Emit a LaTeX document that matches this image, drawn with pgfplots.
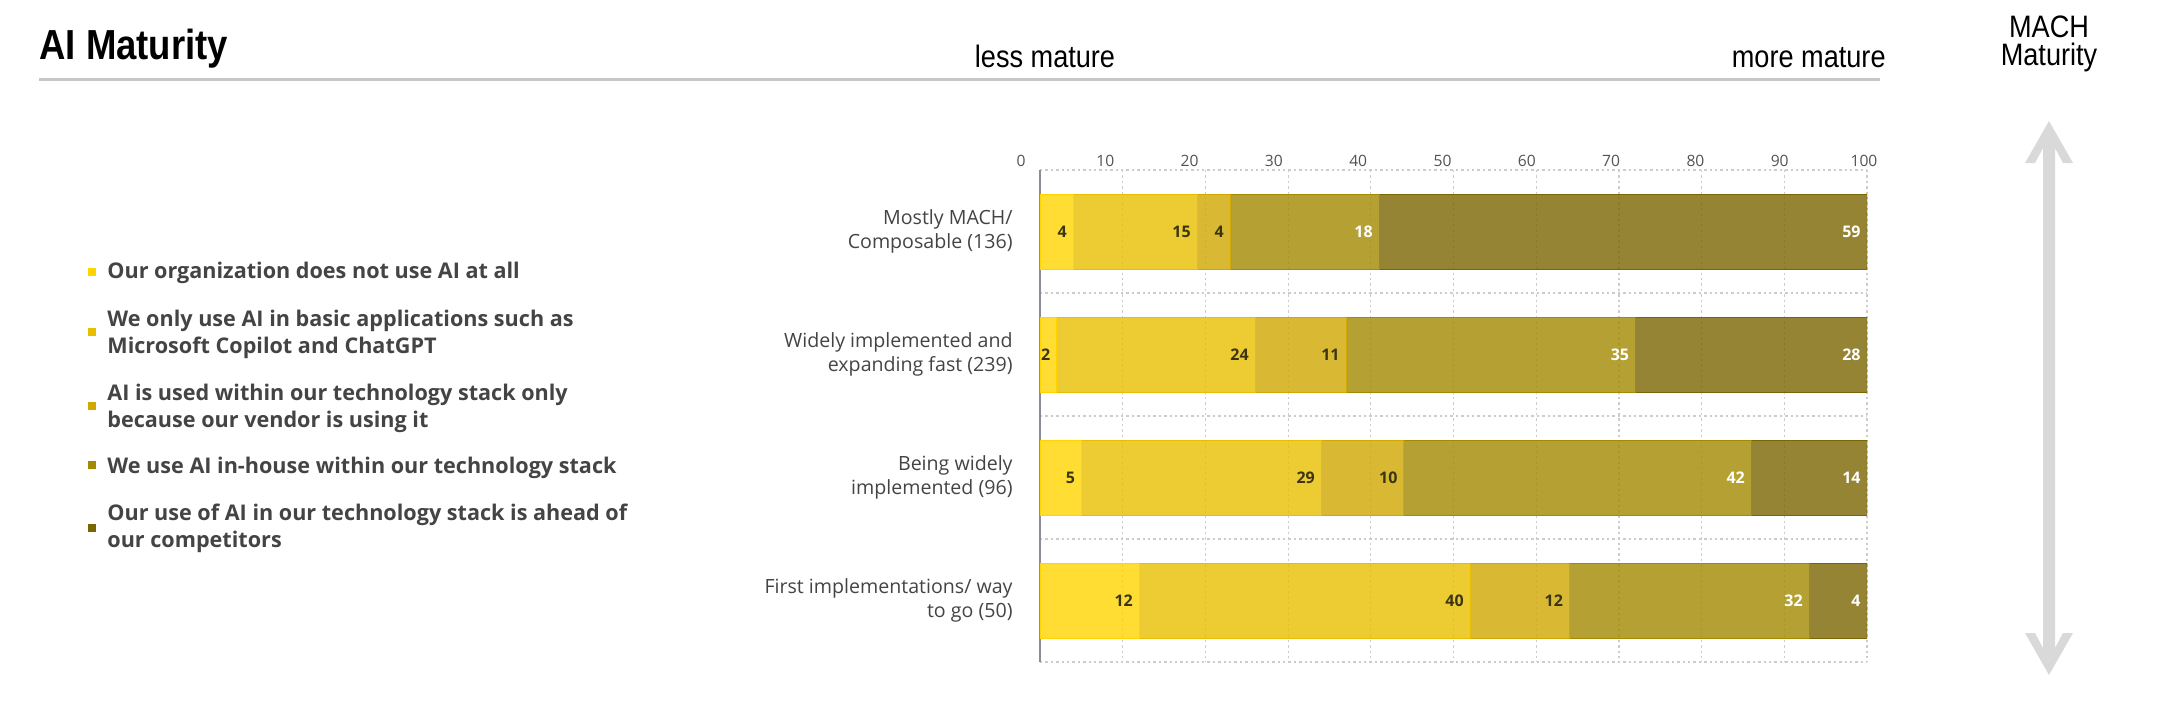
\documentclass[border=0pt]{standalone}
\usepackage{pgfplots}
\usepackage{pgfplotstable}
\pgfplotsset{compat=1.18}
\usepackage{fontspec}
\setmainfont{Open Sans}
\newfontfamily\headfont{Liberation Sans}
\definecolor{c1}{HTML}{FFD400}
\definecolor{c2}{HTML}{E8BE00}
\definecolor{c3}{HTML}{D0A800}
\definecolor{c4}{HTML}{A38A00}
\definecolor{c5}{HTML}{7A6500}
\definecolor{txt}{HTML}{444444}
\definecolor{gridc}{HTML}{CCCCCC}
\definecolor{darklab}{HTML}{3B3611}
\definecolor{axisc}{HTML}{8A8A99}
\definecolor{arrowc}{HTML}{D9D9D9}

% s = segment widths as drawn, l = printed labels
\pgfplotstableread{
cat s1 s2 s3 s4 s5 l1 l2 l3 l4 l5
0 4 15 4 18 59 4 15 4 18 59
1 2 24 11 35 28 2 24 11 35 28
2 5 29 10 42 14 5 29 10 42 14
3 12 40 12 29 7 12 40 12 32 4
}\datatable

\begin{document}
\begin{tikzpicture}
\path[use as bounding box] (0,0) rectangle (1087pt,-351pt);

% header
\node[anchor=base west, inner sep=0pt] at (19.5pt,-29.5pt) {\scalebox{0.87}[1]{\headfont\bfseries\fontsize{21}{25}\selectfont AI Maturity}};
\draw[line width=1.5pt, color=black!22] (19.5pt,-39.5pt) -- (940pt,-39.5pt);
\node[anchor=base, inner sep=0pt] at (522.5pt,-33.5pt) {\scalebox{0.875}[1]{\headfont\fontsize{15.5}{18}\selectfont less mature}};
\node[anchor=base east, inner sep=0pt] at (943pt,-33.5pt) {\scalebox{0.875}[1]{\headfont\fontsize{15.5}{18}\selectfont more mature}};
\node[anchor=base, inner sep=0pt] at (1024.5pt,-18.5pt) {\scalebox{0.875}[1]{\headfont\fontsize{15.5}{18}\selectfont MACH}};
\node[anchor=base, inner sep=0pt] at (1024.5pt,-32.5pt) {\scalebox{0.875}[1]{\headfont\fontsize{15.5}{18}\selectfont Maturity}};

% double arrow
\fill[arrowc, shift={(1024.5pt,-60.5pt)}] (0pt,0pt) -- (12pt,-21pt) -- (7pt,-21pt) -- (3pt,-13.5pt) -- (3pt,-263.5pt) -- (7pt,-256pt) -- (12pt,-256pt) -- (0pt,-277pt) -- (-12pt,-256pt) -- (-7pt,-256pt) -- (-3pt,-263.5pt) -- (-3pt,-13.5pt) -- (-7pt,-21pt) -- (-12pt,-21pt) -- cycle;

% legend
\fill[c1] (44pt,-134pt) rectangle ++(4pt,-4pt);
\fill[c2] (44pt,-164pt) rectangle ++(4pt,-4pt);
\fill[c3] (44pt,-201pt) rectangle ++(4pt,-4pt);
\fill[c4] (44pt,-230.5pt) rectangle ++(4pt,-4pt);
\fill[c5] (44pt,-262pt) rectangle ++(4pt,-4pt);
\begin{scope}[every node/.style={anchor=west, align=left, inner sep=0pt, text=txt, font=\bfseries\fontsize{10.8}{13.5}\selectfont}]
\node at (53.5pt,-136.5pt) {Our organization does not use AI at all};
\node at (53.5pt,-167.25pt) {We only use AI in basic applications such as\\Microsoft Copilot and ChatGPT};
\node at (53.5pt,-204.25pt) {AI is used within our technology stack only\\because our vendor is using it};
\node at (53.5pt,-234pt) {We use AI in-house within our technology stack};
\node at (53.5pt,-264.25pt) {Our use of AI in our technology stack is ahead of\\our competitors};
\end{scope}

% tick labels axis (offset as in reference)
\begin{axis}[
  at={(510.5pt,-80.5pt)}, anchor=north west,
  scale only axis, width=421.5pt, height=5pt,
  xmin=0, xmax=100, ymin=0, ymax=1,
  xtick={0,10,...,100}, ytick=\empty,
  xticklabel pos=upper,
  axis line style={draw=none},
  major tick length=0pt,
  /pgf/number format/assume math mode=true,
  xticklabel style={anchor=center, inner sep=0pt, text=black!68, font=\fontsize{7.8}{9}\selectfont},
]
\addplot[draw=none] coordinates {(0,0)};
\end{axis}

% main stacked bars (translucent, grid shows faintly through)
\begin{axis}[
  at={(520pt,-331pt)}, anchor=south west,
  scale only axis, width=413.5pt, height=246pt,
  xbar stacked, bar width=37.5pt,
  xmin=0, xmax=100, ymin=-0.5, ymax=3.5,
  y dir=reverse,
  axis y line*=left, axis x line*=bottom,
  x axis line style={draw=none},
  y axis line style={draw=axisc, line width=0.6pt},
  xtick={10,20,...,100}, xticklabels=\empty,
  ytick={0,1,2,3},
  yticklabels={{Mostly MACH/\\Composable (136)},{Widely implemented and\\expanding fast (239)},{Being widely\\implemented (96)},{First implementations/ way\\to go (50)}},
  yticklabel style={align=right, inner sep=0pt, xshift=-13.5pt, text=txt, font=\fontsize{9.8}{12}\selectfont},
  minor ytick={-0.5,0.5,1.5,2.5,3.5},
  major tick length=0pt, minor tick length=0pt,
  xmajorgrids=true, yminorgrids=true,
  major grid style={gridc, line width=0.6pt, dash pattern=on 1.2pt off 1.5pt},
  minor grid style={gridc, line width=0.6pt, dash pattern=on 1.2pt off 1.5pt},
]
\addplot[fill=c1, fill opacity=0.8, draw=c1, line width=0.5pt] table[x=s1, y=cat] \datatable;
\addplot[fill=c2, fill opacity=0.8, draw=c2, line width=0.5pt] table[x=s2, y=cat] \datatable;
\addplot[fill=c3, fill opacity=0.8, draw=c3, line width=0.5pt] table[x=s3, y=cat] \datatable;
\addplot[fill=c4, fill opacity=0.8, draw=c4, line width=0.5pt] table[x=s4, y=cat] \datatable;
\addplot[fill=c5, fill opacity=0.8, draw=c5, line width=0.5pt] table[x=s5, y=cat] \datatable;
\end{axis}

% value labels at the right end of each segment
\begin{axis}[
  at={(520pt,-331pt)}, anchor=south west,
  scale only axis, width=413.5pt, height=246pt,
  xbar, bar width=37.5pt, bar shift=0pt,
  xmin=0, xmax=100, ymin=-0.5, ymax=3.5,
  y dir=reverse, hide axis,
  point meta=explicit,
  /pgf/number format/assume math mode=true,
  nodes near coords,
  every node near coord/.append style={anchor=east, xshift=-3pt, inner sep=0pt, font=\bfseries\fontsize{8}{9}\selectfont},
]
\addplot[draw=none, fill=none, nodes near coords style={text=white}]
  table[x expr=\thisrow{s1}+\thisrow{s2}+\thisrow{s3}+\thisrow{s4}+\thisrow{s5}, y=cat, meta=l5] \datatable;
\addplot[draw=none, fill=none, nodes near coords style={text=white}]
  table[x expr=\thisrow{s1}+\thisrow{s2}+\thisrow{s3}+\thisrow{s4}, y=cat, meta=l4] \datatable;
\addplot[draw=none, fill=none, nodes near coords style={text=darklab}]
  table[x expr=\thisrow{s1}+\thisrow{s2}+\thisrow{s3}, y=cat, meta=l3] \datatable;
\addplot[draw=none, fill=none, nodes near coords style={text=darklab}]
  table[x expr=\thisrow{s1}+\thisrow{s2}, y=cat, meta=l2] \datatable;
\addplot[draw=none, fill=none, nodes near coords style={text=darklab}]
  table[x=s1, y=cat, meta=l1] \datatable;
\end{axis}
\end{tikzpicture}
\end{document}
